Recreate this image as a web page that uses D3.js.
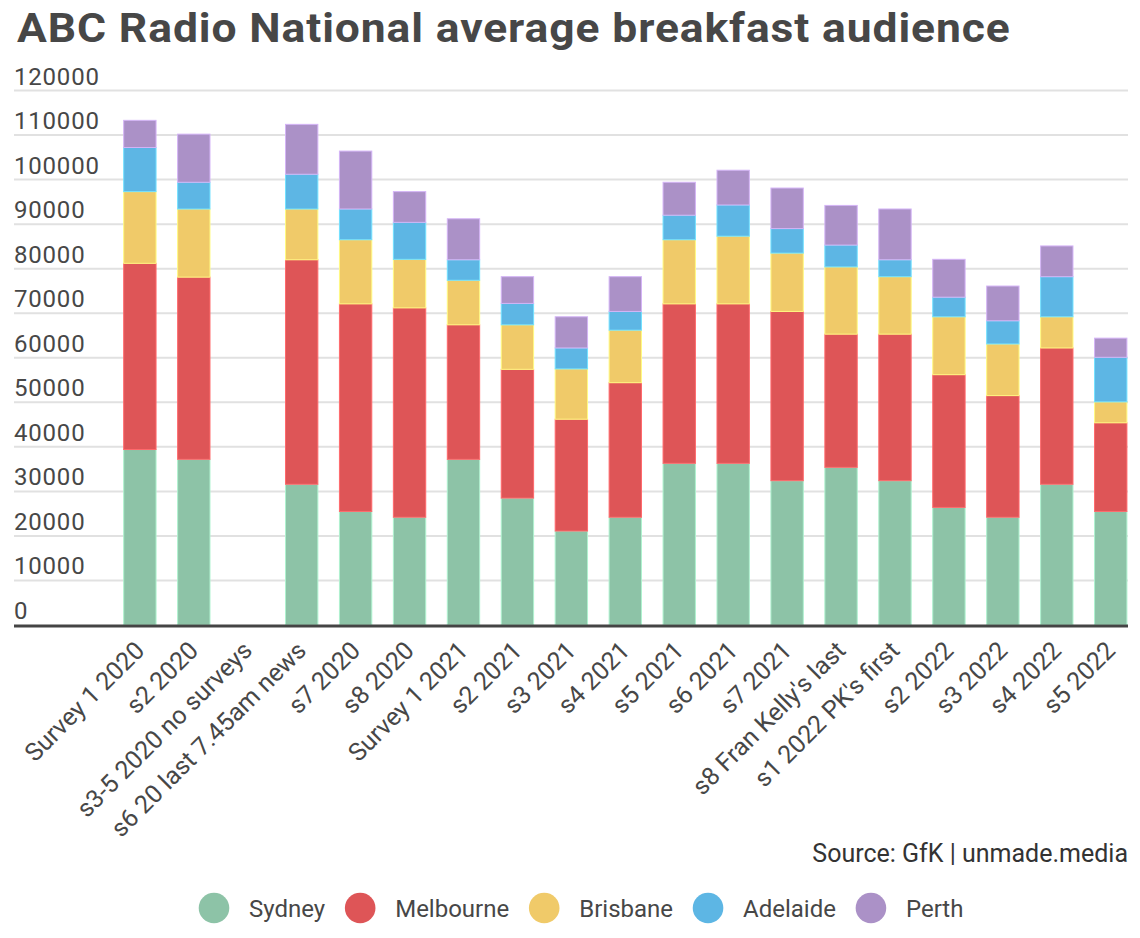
<!DOCTYPE html>
<html><head><meta charset="utf-8">
<script src="https://cdn.jsdelivr.net/npm/d3@7"></script>
<style>
html,body{margin:0;padding:0;background:#fff;}
svg{display:block;font-family:Roboto,"Noto Sans",sans-serif;}
</style></head>
<body>
<svg id="chart" width="1140" height="938"></svg>
<script>
const title = "ABC Radio National average breakfast audience";
const source = "Source: GfK | unmade.media";
const categories = ["Survey 1 2020","s2 2020","s3-5 2020 no surveys","s6 20 last 7.45am news","s7 2020","s8 2020","Survey 1 2021","s2 2021","s3 2021","s4 2021","s5 2021","s6 2021","s7 2021","s8 Fran Kelly's last","s1 2022 PK's first","s2 2022","s3 2022","s4 2022","s5 2022"];
const seriesNames = ["Sydney","Melbourne","Brisbane","Adelaide","Perth"];
const sydney    = [39400,37200,null,31600,25500,24200,37200,28500,21100,24200,36300,36300,32400,35400,32400,26400,24200,31600,25500];
const melbourne = [41800,40900,null,50400,46600,47000,30200,28900,25100,30200,35800,35800,38000,29900,32900,29800,27300,30600,19900];
const brisbane  = [16100,15300,null,11400,14400,10900,10000,10000,11300,11800,14400,15200,13100,15100,12900,13000,11600,7000,4700];
const adelaide  = [9900,6000,null,7800,6900,8300,4600,4800,4700,4200,5500,7000,5500,4900,3800,4400,5200,9000,10000];
const perth     = [6100,10800,null,11200,13000,6900,9200,6000,7000,7800,7400,7800,9100,8900,11400,8500,7800,6900,4300];
const yTicks = [0,10000,20000,30000,40000,50000,60000,70000,80000,90000,100000,110000,120000];
const colors = ["#8dc3a7","#de5557","#f0ca69","#5db6e4","#ab91c7"];

const seriesValues = [sydney, melbourne, brisbane, adelaide, perth];
const table = categories.map((c,i) => {
  const row = {cat: c};
  seriesNames.forEach((s,j) => row[s] = seriesValues[j][i] || 0);
  return row;
});

const svg = d3.select("#chart");
const textColor = "#474747";
const left = 14, right = 1128;

const y = d3.scaleLinear().domain([0,120000]).range([625, 90.5]);
const x = d3.scaleBand().domain(categories).range([112.9, 1137.7]).paddingInner(0.4).paddingOuter(0.2);

// title (stretched to reference width)
const tg = svg.append("g");
const tt = tg.append("text").attr("x", 0).attr("y", 0)
  .attr("font-size", 40).attr("font-weight", 700).attr("letter-spacing", 0.8).attr("fill", textColor)
  .text(title);
const tw = tt.node().getComputedTextLength();
tg.attr("transform", `translate(17,42) scale(${994 / tw},1)`);

// gridlines + labels
const g = svg.append("g");
g.selectAll("line.grid").data(yTicks.filter(d => d > 0)).join("line")
  .attr("class","grid")
  .attr("x1", left).attr("x2", right)
  .attr("y1", d => y(d)).attr("y2", d => y(d))
  .attr("stroke", "#e1e1e1").attr("stroke-width", 2);
g.selectAll("text.ytick").data(yTicks).join("text")
  .attr("class","ytick")
  .attr("x", left).attr("y", d => y(d) - 6)
  .attr("font-size", 24).attr("letter-spacing", 0.8).attr("fill", textColor)
  .text(d => d3.format("d")(d));

// bars
const stack = d3.stack().keys(seriesNames)(table);
svg.append("g").selectAll("g").data(stack).join("g")
  .attr("fill", (d,i) => colors[i])
  .attr("stroke", (d,i) => d3.color(colors[i]).brighter(0.6))
  .attr("stroke-width", 1)
  .selectAll("rect").data(d => d.filter(p => p[1] > p[0])).join("rect")
  .attr("x", d => x(d.data.cat))
  .attr("width", x.bandwidth())
  .attr("y", d => y(d[1]))
  .attr("height", d => y(d[0]) - y(d[1]));

// baseline
svg.append("line").attr("x1", left).attr("x2", right)
  .attr("y1", y(0) + 1).attr("y2", y(0) + 1)
  .attr("stroke", "#444").attr("stroke-width", 3);

// x labels
svg.append("g").selectAll("text").data(categories).join("text")
  .attr("transform", d => `translate(${x(d) + x.bandwidth()/2 + 6},652) rotate(-45)`)
  .attr("text-anchor", "end")
  .attr("font-size", 25).attr("fill", textColor)
  .text(d => d);

// source
svg.append("text").attr("x", right).attr("y", 862)
  .attr("text-anchor", "end").attr("font-size", 25).attr("fill", "#333")
  .text(source);

// legend
const leg = svg.append("g");
let cx = 214;
seriesNames.forEach((s,i) => {
  leg.append("circle").attr("cx", cx).attr("cy", 908).attr("r", 15.3).attr("fill", colors[i]);
  const t = leg.append("text").attr("x", cx + 35).attr("y", 916.5)
    .attr("font-size", 24).attr("fill", textColor).text(s);
  const w = t.node().getComputedTextLength();
  cx = cx + 35 + w + 35;
});
</script>
</body></html>
